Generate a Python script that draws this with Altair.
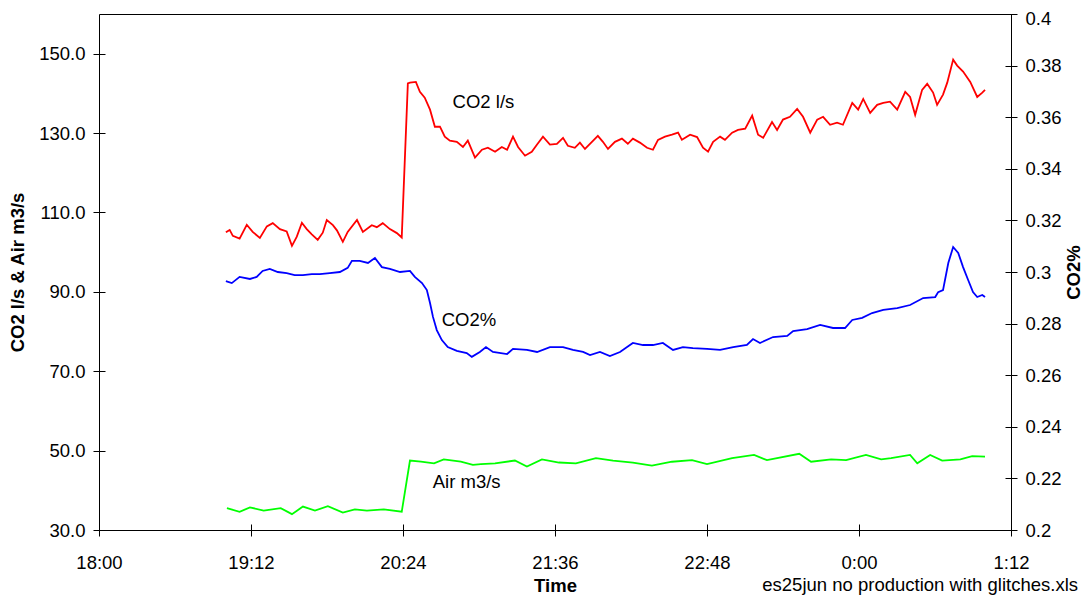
import altair as alt
import pandas as pd

# time axis: minutes after 18:00
co2_ls_t = [60.1, 61.9, 63.4, 66.6, 70.0, 72.8, 76.2, 79.5, 82.3, 85.7, 88.9, 91.4, 93.7, 96.1, 98.4, 100.8,
            103.6, 106.0, 107.9, 110.8, 112.7, 115.5, 117.8, 122.2, 125.0, 129.2, 131.6, 134.4, 137.8, 141.1,
            143.4, 146.3, 147.3, 150.1, 152.0, 154.3, 156.8, 159.1, 161.5, 163.8, 166.2, 169.5, 172.4, 174.7,
            178.1, 181.4, 184.2, 187.6, 190.8, 193.3, 196.1, 198.5, 201.8, 205.0, 207.5, 210.3, 213.6, 216.9,
            219.8, 222.1, 225.4, 227.8, 230.2, 233.5, 236.3, 238.7, 241.1, 244.4, 247.7, 250.5, 252.9, 256.2,
            259.6, 262.4, 264.8, 268.1, 271.4, 274.3, 276.1, 280.0, 283.3, 286.1, 288.5, 290.9, 294.2, 296.5,
            299.9, 302.7, 306.1, 309.4, 312.2, 314.6, 318.8, 321.2, 324.0, 327.3, 330.7, 333.5, 336.9, 340.2,
            343.0, 346.3, 349.6, 352.4, 356.8, 359.6, 362.0, 365.3, 368.6, 371.5, 374.7, 378.1, 381.9, 384.2,
            386.6, 389.9, 392.3, 395.1, 397.0, 399.8, 401.8, 404.6, 406.5, 409.3, 412.7, 416.0, 418.4, 419.7]
co2_ls_v = [105.0, 105.6, 104.1, 103.4, 106.9, 105.1, 103.6, 106.5, 107.3, 105.8, 105.2, 101.6, 103.9, 107.4,
            105.8, 104.5, 103.1, 104.9, 108.1, 106.8, 105.5, 102.6, 105.1, 108.1, 105.1, 106.8, 106.3, 107.3,
            105.8, 104.8, 103.7, 142.5, 142.7, 142.9, 140.4, 138.9, 135.9, 131.6, 131.6, 129.1, 128.1, 127.8,
            126.5, 128.1, 123.8, 125.8, 126.3, 125.3, 126.5, 125.8, 129.1, 126.5, 124.3, 125.3, 127.1, 129.1,
            127.1, 127.3, 128.8, 126.8, 126.3, 127.6, 126.0, 127.8, 129.3, 127.8, 126.0, 127.8, 128.6, 127.3,
            128.6, 127.6, 126.3, 125.8, 128.3, 129.1, 129.6, 130.1, 128.3, 129.6, 129.0, 126.3, 125.3, 127.8,
            129.1, 128.3, 130.1, 130.8, 131.1, 134.4, 129.6, 128.8, 132.8, 130.8, 133.4, 134.1, 136.1, 134.1,
            130.1, 133.4, 134.1, 132.1, 132.6, 132.1, 137.6, 135.9, 138.6, 135.1, 137.1, 137.6, 137.9, 135.9,
            140.4, 139.1, 134.6, 140.9, 142.4, 140.2, 137.1, 139.7, 142.7, 148.5, 147.0, 145.5, 142.9, 139.1,
            140.2, 140.9]

co2_pct_t = [60.1, 62.9, 66.6, 71.5, 74.7, 77.5, 80.9, 84.7, 88.9, 92.7, 96.6, 100.8, 104.6, 109.3, 114.1,
             117.8, 119.8, 123.5, 127.4, 130.7, 134.0, 137.8, 142.6, 147.3, 149.6, 153.0, 155.3, 156.8, 158.2,
             160.0, 162.4, 165.2, 169.5, 174.2, 176.6, 180.4, 183.3, 186.6, 193.3, 196.1, 202.7, 207.5, 213.6,
             219.8, 224.5, 229.3, 232.6, 237.3, 242.0, 246.8, 251.5, 252.9, 257.7, 262.4, 267.1, 271.9, 276.6,
             281.3, 288.0, 294.2, 300.4, 306.9, 309.8, 313.1, 319.3, 326.0, 328.8, 335.4, 341.6, 347.7, 353.4,
             356.8, 361.5, 366.2, 371.5, 378.1, 384.2, 390.4, 396.1, 397.5, 399.8, 402.3, 404.6, 407.0, 409.3,
             411.7, 414.0, 416.0, 418.4, 419.7]
co2_pct_v = [0.2965, 0.2957, 0.2981, 0.2973, 0.2981, 0.3004, 0.3012, 0.3000, 0.2996, 0.2988, 0.2988, 0.2992,
             0.2992, 0.2996, 0.3000, 0.3016, 0.3043, 0.3043, 0.3035, 0.3054, 0.3019, 0.3012, 0.3000, 0.3004,
             0.2981, 0.2957, 0.2930, 0.2880, 0.2826, 0.2775, 0.2736, 0.2709, 0.2694, 0.2686, 0.2671, 0.2690,
             0.2709, 0.2690, 0.2682, 0.2702, 0.2698, 0.2690, 0.2709, 0.2709, 0.2698, 0.2690, 0.2678, 0.2690,
             0.2674, 0.2690, 0.2717, 0.2725, 0.2717, 0.2717, 0.2725, 0.2698, 0.2709, 0.2705, 0.2702, 0.2698,
             0.2709, 0.2717, 0.2740, 0.2725, 0.2748, 0.2752, 0.2771, 0.2779, 0.2795, 0.2783, 0.2783, 0.2814,
             0.2822, 0.2841, 0.2853, 0.2860, 0.2872, 0.2899, 0.2903, 0.2922, 0.2930, 0.3035, 0.3097, 0.3074,
             0.3019, 0.2969, 0.2922, 0.2903, 0.2911, 0.2903]

air_t = [60.6, 66.6, 71.5, 78.0, 86.1, 91.4, 96.6, 102.3, 108.4, 115.5, 121.2, 126.9, 134.9, 143.4, 147.3,
         152.5, 158.7, 163.3, 171.4, 177.1, 180.9, 187.6, 197.0, 202.7, 209.8, 217.9, 225.9, 235.4, 243.5,
         252.9, 261.9, 271.4, 280.9, 288.0, 299.9, 310.3, 316.4, 331.7, 337.3, 346.8, 353.9, 363.3, 370.5,
         375.2, 384.2, 387.6, 393.7, 399.4, 408.0, 413.6, 419.7]
air_v = [35.5, 34.6, 35.7, 34.9, 35.5, 34.0, 35.9, 34.9, 36.0, 34.4, 35.2, 34.9, 35.2, 34.6, 47.5, 47.2,
         46.8, 47.8, 47.2, 46.4, 46.6, 46.8, 47.5, 46.0, 47.8, 47.0, 46.8, 48.1, 47.5, 47.0, 46.2, 47.2,
         47.6, 46.6, 48.1, 48.9, 47.6, 49.2, 47.2, 47.8, 47.6, 48.9, 47.8, 48.1, 48.9, 46.8, 48.9, 47.5,
         47.8, 48.6, 48.5]

x_ticks = [0, 72, 144, 216, 288, 360, 432]
left_ticks = [30, 50, 70, 90, 110, 130, 150]
right_ticks = [0.2, 0.22, 0.24, 0.26, 0.28, 0.3, 0.32, 0.34, 0.36, 0.38, 0.4]

label_text = ["CO2 l/s", "CO2%", "Air m3/s"]
label_t = [167.5, 162.3, 158.1]
label_v = [137.8, 82.8, 42.1]

left_title = "CO2 l/s & Air m3/s"
right_title = "CO2%"
x_title = "Time"
footer = "es25jun no production with glitches.xls"

FONT = "Liberation Sans"
FS = 18.5
W, H = 912, 516

left_df = pd.concat([
    pd.DataFrame({"t": co2_ls_t, "v": co2_ls_v, "series": "CO2 l/s"}),
    pd.DataFrame({"t": air_t, "v": air_v, "series": "Air m3/s"}),
])
blue_df = pd.DataFrame({"t": co2_pct_t, "p": co2_pct_v})
lab_df = pd.DataFrame({"t": label_t, "v": label_v, "txt": label_text})

label_expr = ("floor((1080 + datum.value) / 60) % 24 + ':' + "
              "(((1080 + datum.value) % 60) < 10 ? '0' : '') + ((1080 + datum.value) % 60)")

x_axis = alt.Axis(values=x_ticks, labelExpr=label_expr, title=x_title, offset=-6,
                  tickSize=12, labelPadding=17, labelFlush=False, titleBaseline="alphabetic",
                  titleY=67, titleX=W / 2)
x_scale = alt.Scale(domain=[0, 432], nice=False, zero=False)

left_axis = alt.Axis(values=left_ticks, format=".1f", title=left_title, offset=-6, tickSize=12,
                     labelPadding=8, titleAngle=270, titleBaseline="middle", titleX=-87.5,
                     titleY=H / 2)
left_scale = alt.Scale(domain=[30, 160], nice=False, zero=False)

lines_left = alt.Chart(left_df).mark_line(strokeWidth=1.8).encode(
    x=alt.X("t:Q", scale=x_scale, axis=x_axis),
    y=alt.Y("v:Q", scale=left_scale, axis=left_axis),
    color=alt.Color("series:N", scale=alt.Scale(domain=["CO2 l/s", "Air m3/s"],
                                                range=["#FF0000", "#00FF00"]), legend=None),
    detail="series:N",
)

labels = alt.Chart(lab_df).mark_text(align="left", baseline="middle", font=FONT, fontSize=FS,
                                     color="black").encode(
    x=alt.X("t:Q", scale=x_scale, axis=x_axis),
    y=alt.Y("v:Q", scale=left_scale, axis=left_axis),
    text="txt:N",
)

foot = alt.Chart(pd.DataFrame({"txt": [footer]})).mark_text(
    align="right", baseline="alphabetic", font=FONT, fontSize=FS, color="black").encode(
    x=alt.value(979), y=alt.value(577), text="txt:N")

left_layer = alt.layer(lines_left, labels, foot)

blue = alt.Chart(blue_df).mark_line(strokeWidth=1.8, color="#0000FF").encode(
    x=alt.X("t:Q", scale=x_scale, axis=x_axis),
    y=alt.Y("p:Q", scale=alt.Scale(domain=[0.2, 0.4], nice=False, zero=False),
            axis=alt.Axis(values=right_ticks, format=".2~f", title=right_title, orient="right",
                          offset=-6, tickSize=12, labelPadding=8, titleAngle=270,
                          labelOffset={"condition": {"test": "datum.value > 0.39", "value": 4},
                                       "value": 0},
                          titleBaseline="middle", titleX=68, titleY=H / 2)),
)

chart = alt.layer(left_layer, blue).resolve_scale(y="independent").properties(
    width=W, height=H,
    autosize=alt.AutoSizeParams(type="none"),
    padding={"left": 91, "top": 6, "right": 72, "bottom": 65},
).configure_view(stroke="black", strokeWidth=1).configure_axis(
    labelFont=FONT, labelFontSize=FS, labelColor="black", tickColor="black", tickWidth=1,
    titleFont=FONT, titleFontSize=FS, titleFontWeight="bold", titleColor="black",
    grid=False, domain=False, labelOverlap=False,
)

chart.save("out.html", embed_options={"renderer": "svg", "actions": False})
